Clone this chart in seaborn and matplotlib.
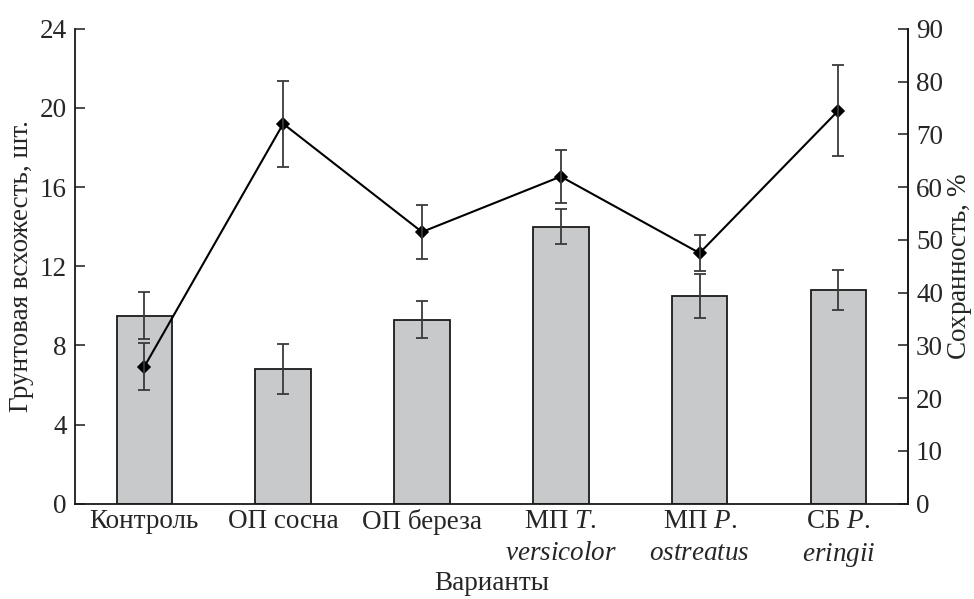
import matplotlib
matplotlib.use("Agg")
import matplotlib.pyplot as plt
import seaborn as sns
import pandas as pd
import numpy as np
from matplotlib.ticker import FixedLocator

categories = ["Контроль", "ОП сосна", "ОП береза", "МП T. versicolor", "МП P. ostreatus", "СБ P. eringii"]
tick_labels = ["Контроль", "ОП сосна", "ОП береза",
               "МП $\\mathit{T.}$\n$\\mathit{versicolor}$",
               "МП $\\mathit{P.}$\n$\\mathit{ostreatus}$",
               "СБ $\\mathit{P.}$\n$\\mathit{eringii}$"]
emergence = [9.5, 6.8, 9.3, 14.0, 10.5, 10.8]
emergence_err = [1.2, 1.25, 0.95, 0.9, 1.1, 1.0]
survival = [26.0, 72.0, 51.5, 62.0, 47.5, 74.5]
survival_err = [4.5, 8.1, 5.1, 5.1, 3.4, 8.7]

sns.set_style("white")
plt.rcParams["font.family"] = ["Liberation Serif", "DejaVu Serif"]
plt.rcParams["mathtext.fontset"] = "custom"
plt.rcParams["mathtext.rm"] = "Liberation Serif"
plt.rcParams["mathtext.it"] = "Liberation Serif:italic"

FS = 19.5
df = pd.DataFrame({"cat": categories, "em": emergence, "sv": survival})

fig = plt.figure(figsize=(9.74, 5.99), dpi=100)
ax = fig.add_axes([0.077, 0.159, 0.855, 0.793])

sns.barplot(data=df, x="cat", y="em", order=categories, color="#c8c9cb",
            edgecolor="#1a1a1a", linewidth=1.3, width=0.40, saturation=1,
            errorbar=None, ax=ax)
xpos = np.arange(len(categories))
ax.errorbar(xpos, emergence, yerr=emergence_err, fmt="none", ecolor="#3a3a3a",
            elinewidth=1.3, capsize=4, capthick=1.3, zorder=5)

ax.set_xlim(-0.5, 5.5)
ax.set_ylim(0, 24)
ax.set_yticks([0, 4, 8, 12, 16, 20, 24])
ax.set_xticks(xpos)
ax.set_xticklabels(tick_labels, fontsize=FS, linespacing=1.35, va="top")
ax.xaxis.set_minor_locator(FixedLocator([0.5, 1.5, 2.5, 3.5, 4.5]))
ax.tick_params(axis="x", which="major", length=0, pad=4)
ax.tick_params(axis="x", which="minor", direction="in", length=7, width=1.1, color="#1a1a1a")
ax.tick_params(axis="y", direction="in", length=7, width=1.1, labelsize=FS, color="#1a1a1a", pad=6)
ax.set_xlabel("Варианты", fontsize=FS, labelpad=1)
ax.set_ylabel("Грунтовая всхожесть, шт.", fontsize=FS, labelpad=4)
for s in ["left", "bottom", "right"]:
    ax.spines[s].set_linewidth(1.3)
    ax.spines[s].set_color("#1a1a1a")
ax.spines["top"].set_visible(False)

ax2 = ax.twinx()
sns.pointplot(data=df, x="cat", y="sv", order=categories, color="black",
              markers="D", markersize=6, linewidth=1.5, errorbar=None, ax=ax2)
ax2.errorbar(xpos, survival, yerr=survival_err, fmt="none", ecolor="#3a3a3a",
             elinewidth=1.3, capsize=4, capthick=1.3, zorder=5)
ax2.set_xlim(-0.5, 5.5)
ax2.set_ylim(0, 90)
ax2.set_yticks(range(0, 91, 10))
ax2.tick_params(axis="y", direction="in", length=7, width=1.1, labelsize=FS, color="#1a1a1a", pad=6)
ax2.set_ylabel("Сохранность, $\\mathit{\\%}$", fontsize=FS, labelpad=2)
ax2.set_xlabel("")
for s in ["top", "left", "bottom"]:
    ax2.spines[s].set_visible(False)
ax2.spines["right"].set_linewidth(1.3)
ax2.spines["right"].set_color("#1a1a1a")

fig.savefig("out.png", dpi=100)
